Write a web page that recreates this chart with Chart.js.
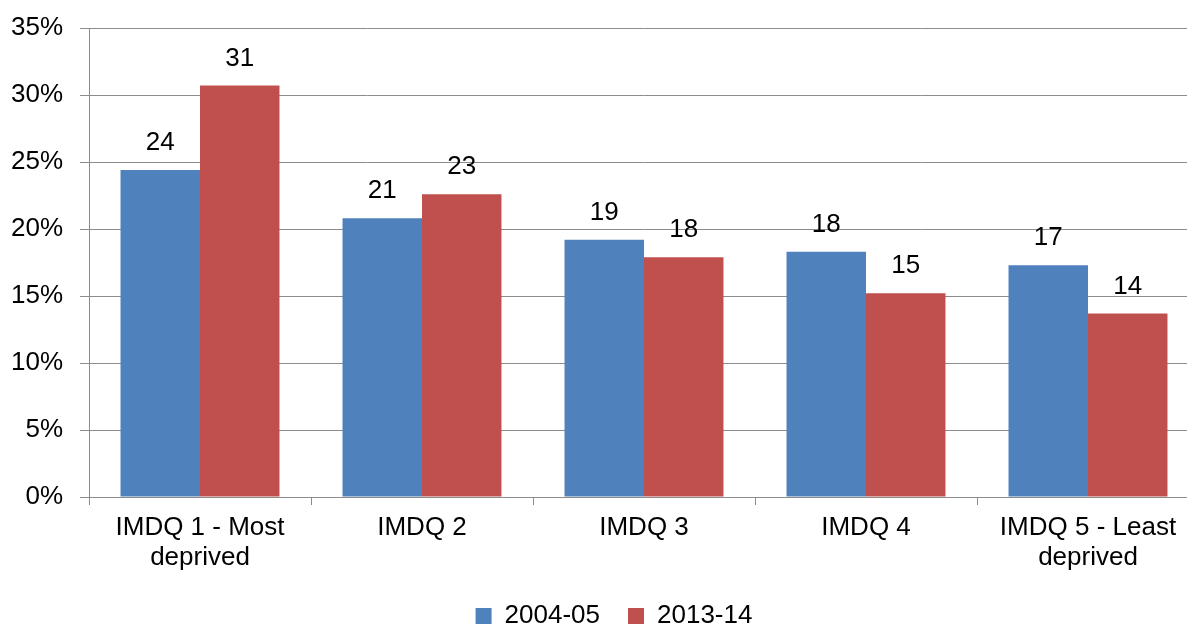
<!DOCTYPE html>
<html>
<head>
<meta charset="utf-8">
<script src="https://cdn.jsdelivr.net/npm/chart.js@4"></script>
<style>
  html, body { margin: 0; padding: 0; background: #fff; overflow: hidden; }
  #wrap { width: 1228px; height: 624px; position: relative; overflow: hidden; }
</style>
</head>
<body>
<div id="wrap"><canvas id="c" width="1228" height="648"></canvas></div>
<script>
const categories = [
  ['IMDQ 1 - Most', 'deprived'],
  'IMDQ 2',
  'IMDQ 3',
  'IMDQ 4',
  ['IMDQ 5 - Least', 'deprived']
];
const seriesNames = ['2004-05', '2013-14'];
const values2004 = [24.4, 20.8, 19.2, 18.3, 17.3];
const values2013 = [30.7, 22.6, 17.9, 15.2, 13.7];
const yTicks = [0, 5, 10, 15, 20, 25, 30, 35];

const FONT = "'Liberation Sans', Arial, sans-serif";
const FS = 26;

const valueLabels = {
  id: 'valueLabels',
  afterDatasetsDraw(chart) {
    const ctx = chart.ctx;
    ctx.save();
    ctx.font = FS + 'px ' + FONT;
    ctx.fillStyle = '#000';
    ctx.textAlign = 'center';
    ctx.textBaseline = 'middle';
    chart.data.datasets.forEach((ds, i) => {
      const meta = chart.getDatasetMeta(i);
      meta.data.forEach((bar, j) => {
        ctx.fillText(String(Math.round(ds.data[j])), bar.x, bar.y - 27);
      });
    });
    ctx.restore();
  }
};

const legendShift = {
  id: 'legendShift',
  afterLayout(chart) {
    if (chart.legend) { chart.legend.left += 14.5; chart.legend.right += 14.5; }
  }
};

new Chart(document.getElementById('c'), {
  type: 'bar',
  data: {
    labels: categories,
    datasets: [
      { label: seriesNames[0], data: values2004, backgroundColor: '#4F81BD', borderWidth: 0 },
      { label: seriesNames[1], data: values2013, backgroundColor: '#C0504D', borderWidth: 0 }
    ]
  },
  options: {
    responsive: false,
    animation: false,
    devicePixelRatio: 1,
    layout: { padding: { left: 0, right: 29, top: 28, bottom: 9 } },
    datasets: { bar: { categoryPercentage: 0.716, barPercentage: 1.0 } },
    scales: {
      x: {
        grid: { display: true, drawOnChartArea: false, drawTicks: true, tickLength: 8, offset: true, color: '#8c8c8c' },
        border: { display: true, color: '#8c8c8c' },
        ticks: { color: '#000', font: { family: FONT, size: FS, lineHeight: 1.15 }, padding: 8, maxRotation: 0, autoSkip: false },
        afterFit(axis) { axis.height = 78; axis.paddingLeft = 0; axis.paddingRight = 0; }
      },
      y: {
        min: 0, max: 35,
        afterBuildTicks(axis) { axis.ticks = yTicks.map(v => ({ value: v })); },
        grid: { color: '#8c8c8c', tickLength: 9, drawTicks: true },
        border: { display: true, color: '#8c8c8c' },
        ticks: { color: '#000', font: { family: FONT, size: FS }, padding: 17, callback: v => v + '%' },
        afterFit(axis) { axis.width = 89; axis.paddingTop = 0; axis.paddingBottom = 0; }
      }
    },
    plugins: {
      legend: {
        position: 'bottom',
        labels: { boxWidth: 16, boxHeight: 16, color: '#000', font: { family: FONT, size: FS }, padding: 28 }
      },
      tooltip: { enabled: false }
    }
  },
  plugins: [valueLabels, legendShift]
});
</script>
</body>
</html>
